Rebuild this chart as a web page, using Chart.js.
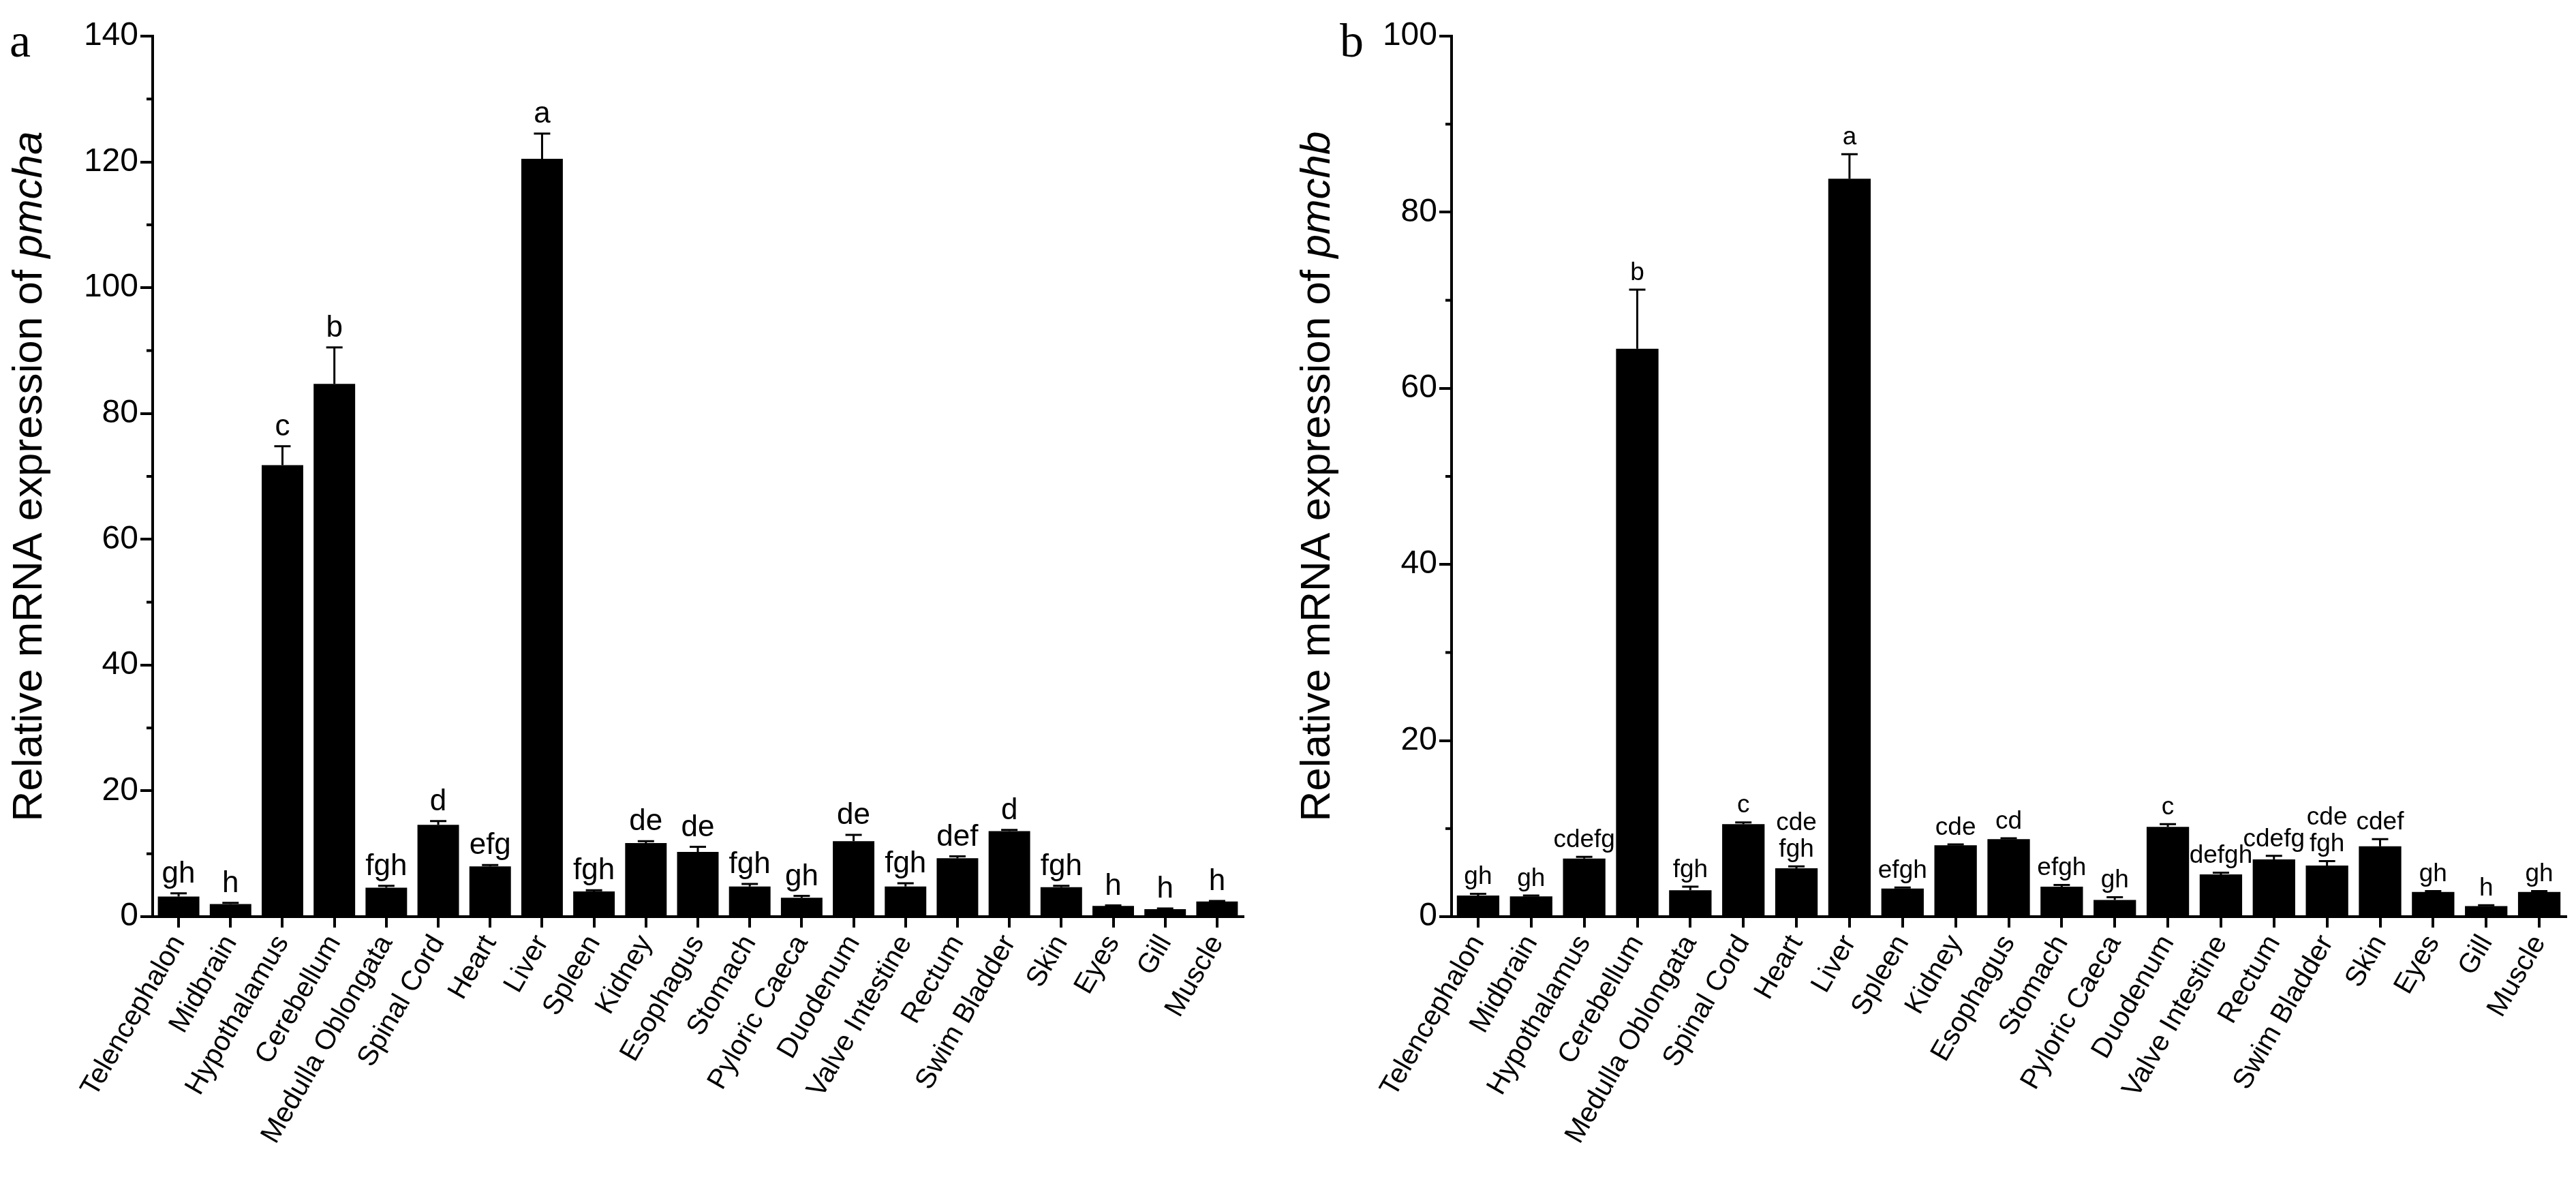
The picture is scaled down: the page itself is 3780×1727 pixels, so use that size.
<!DOCTYPE html>
<html><head><meta charset="utf-8">
<script src="https://cdn.jsdelivr.net/npm/chart.js@4"></script>
<style>
body{margin:0;background:#fff;width:3780px;height:1727px;position:relative;overflow:hidden;font-family:"Liberation Sans",Arial,sans-serif}
.wrap{position:absolute;top:0;height:1727px}
.panel{position:absolute;top:20px;font-family:"Liberation Serif","Times New Roman",serif;font-size:70px}
</style></head><body>
<div class="panel" style="left:14px">a</div>
<div class="panel" style="left:1966px">b</div>
<div class="wrap" style="left:0;width:1870px"><canvas id="ca"></canvas></div>
<div class="wrap" style="left:1890px;width:1890px"><canvas id="cb"></canvas></div>
<script>
const tissues = ['Telencephalon','Midbrain','Hypothalamus','Cerebellum','Medulla Oblongata','Spinal Cord','Heart','Liver','Spleen','Kidney','Esophagus','Stomach','Pyloric Caeca','Duodenum','Valve Intestine','Rectum','Swim Bladder','Skin','Eyes','Gill','Muscle'];

const pmchaMean = [3.2,2.0,71.8,84.7,4.6,14.6,8.0,120.5,4.0,11.7,10.3,4.8,3.0,12.0,4.8,9.3,13.6,4.7,1.7,1.2,2.4];
const pmchaErr  = [0.5,0.2,3.0,5.8,0.3,0.6,0.2,4.0,0.2,0.3,0.8,0.4,0.3,1.0,0.5,0.3,0.2,0.2,0.1,0.1,0.1];
const pmchaSig  = ['gh','h','c','b','fgh','d','efg','a','fgh','de','de','fgh','gh','de','fgh','def','d','fgh','h','h','h'];

const pmchbMean = [2.4,2.3,6.6,64.5,3.0,10.5,5.5,83.8,3.2,8.1,8.8,3.4,1.9,10.2,4.8,6.5,5.8,8.0,2.8,1.2,2.8];
const pmchbErr  = [0.2,0.1,0.2,6.7,0.4,0.2,0.2,2.8,0.1,0.1,0.1,0.2,0.3,0.3,0.2,0.4,0.5,0.8,0.1,0.1,0.1];
const pmchbSig  = ['gh','gh','cdefg','b','fgh','c',['cde','fgh'],'a','efgh','cde','cd','efgh','gh','c','defgh','cdefg',['cde','fgh'],'cdef','gh','h','gh'];

function makeChart(id, mean, err, sig, yMax, title, italicWord, axisW, rightPad, sigSize) {
    const annot = {
        id: 'annot',
        afterDatasetsDraw(chart) {
            const c = chart.ctx, x = chart.scales.x, y = chart.scales.y;
            c.save();
            c.strokeStyle = '#000'; c.lineWidth = 3;
            c.fillStyle = '#000';
            c.textAlign = 'center'; c.textBaseline = 'bottom';
            c.font = sigSize + 'px "Liberation Sans", Arial, sans-serif';
            mean.forEach((v, i) => {
                const px = x.getPixelForValue(i);
                const top = y.getPixelForValue(v + err[i]);
                const base = y.getPixelForValue(v);
                c.beginPath();
                c.moveTo(px, base); c.lineTo(px, top);
                c.moveTo(px - 12, top); c.lineTo(px + 12, top);
                c.stroke();
                const lines = Array.isArray(sig[i]) ? sig[i] : [sig[i]];
                let ty = top - 6;
                for (let k = lines.length - 1; k >= 0; k--) {
                    c.fillText(lines[k], px, ty);
                    ty -= sigSize * 1.05;
                }
            });
            // minor ticks
            c.lineWidth = 4;
            for (let t = 10; t < yMax; t += 20) {
                const py = y.getPixelForValue(t);
                c.beginPath(); c.moveTo(x.left, py); c.lineTo(x.left - 9, py); c.stroke();
            }
            c.restore();
        }
    };
    const yTitle = {
        id: 'ytitle',
        afterDraw(chart) {
            const c = chart.ctx, a = chart.chartArea;
            c.save();
            c.fillStyle = '#000';
            c.translate(44, (a.top + a.bottom) / 2);
            c.rotate(-Math.PI / 2);
            c.textBaseline = 'middle';
            const f1 = '62px "Liberation Sans", Arial, sans-serif';
            const f2 = 'italic 62px "Liberation Sans", Arial, sans-serif';
            c.font = f1; const w1 = c.measureText(title).width;
            c.font = f2; const w2 = c.measureText(italicWord).width;
            let sx = -(w1 + w2) / 2;
            c.font = f1; c.textAlign = 'left'; c.fillText(title, sx, 0);
            c.font = f2; c.fillText(italicWord, sx + w1, 0);
            c.restore();
        }
    };
    return new Chart(document.getElementById(id), {
        type: 'bar',
        data: { labels: tissues, datasets: [{ data: mean, backgroundColor: '#000', barPercentage: 0.8, categoryPercentage: 1 }] },
        options: {
            responsive: true, maintainAspectRatio: false, animation: false,
            layout: { padding: { top: 53, right: rightPad, left: 0, bottom: 0 } },
            plugins: { legend: { display: false }, tooltip: { enabled: false } },
            scales: {
                x: {
                    grid: { display: true, drawOnChartArea: false, drawTicks: true, tickLength: 16, color: '#000', lineWidth: 4, offset: false },
                    border: { color: '#000', width: 4 },
                    ticks: { color: '#000', maxRotation: 60, minRotation: 60, font: { size: 41, family: '"Liberation Sans", Arial, sans-serif' } },
                    afterFit(s) { s.height = 382; }
                },
                y: {
                    min: 0, max: yMax,
                    grid: { display: true, drawOnChartArea: false, drawTicks: true, tickLength: 18, color: '#000', lineWidth: 4 },
                    border: { color: '#000', width: 4 },
                    ticks: { stepSize: 20, color: '#000', font: { size: 48, family: '"Liberation Sans", Arial, sans-serif' } },
                    afterFit(s) { s.width = axisW; }
                }
            }
        },
        plugins: [annot, yTitle]
    });
}

makeChart('ca', pmchaMean, pmchaErr, pmchaSig, 140, 'Relative mRNA expression of ', 'pmcha', 224, 46, 44);
makeChart('cb', pmchbMean, pmchbErr, pmchbSig, 100, 'Relative mRNA expression of ', 'pmchb', 240, 15, 37);
</script>
</body></html>
